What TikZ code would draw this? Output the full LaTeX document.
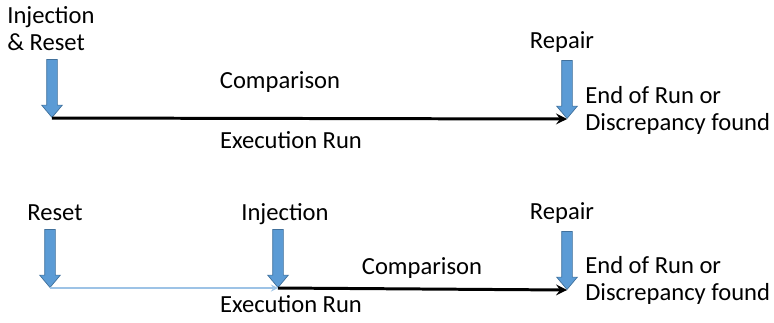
\documentclass[tikz,border=0pt]{standalone}
\usepackage{fontspec}
\setmainfont{Carlito}
\usetikzlibrary{shapes.arrows}
\definecolor{markblue}{HTML}{5B9BD5}
\definecolor{markedge}{HTML}{41719C}
\definecolor{lightrun}{HTML}{9DC3E6}
\tikzset{
  flag/.style={single arrow, shape border rotate=270, fill=markblue, draw=markedge,
    line width=0.4pt, inner sep=0.1cm, minimum height=1.16cm,
    single arrow head extend=0.1cm, single arrow tip angle=80, anchor=tip},
  txt/.style={font=\fontsize{14}{15.3}\selectfont, inner sep=0pt},
  run/.style={->, line width=1.7pt},
  prerun/.style={->, draw=lightrun, line width=0.8pt}
}
\begin{document}
\begin{tikzpicture}[x=0.02cm, y=-0.02cm, >=stealth]
\useasboundingbox (0,0) rectangle (774,322);
% first run: injection and reset together
\node[flag] (ir) at (52,118) {};
\node[flag] (rp1) at (567,119) {};
\draw[run] (ir.tip) -- (rp1.tip);
\node[txt, anchor=north west, align=left] (irlbl) at (7,6) {Injection\\\& Reset};
\node[txt] (rp1lbl) at (562,42) {Repair};
\node[txt] (cmp1) at (280,82) {Comparison};
\node[txt] (exe1) at (291,140) {Execution Run};
\node[txt, anchor=north west, align=left] (end1) at (585,86) {End of Run or\\Discrepancy found};
% second run: reset first, injection later
\node[flag] (rs) at (50,288) {};
\node[flag] (inj) at (278,288) {};
\node[flag] (rp2) at (567,290) {};
\draw[prerun] (rs.tip) -- (inj.tip);
\draw[run] (inj.tip) -- (rp2.tip);
\node[txt] (rslbl) at (55,213) {Reset};
\node[txt] (injlbl) at (285,214) {Injection};
\node[txt] (rp2lbl) at (562,213) {Repair};
\node[txt] (cmp2) at (422,268) {Comparison};
\node[txt] (exe2) at (291,304) {Execution Run};
\node[txt, anchor=north west, align=left] (end2) at (585,256) {End of Run or\\Discrepancy found};
\end{tikzpicture}
\end{document}
